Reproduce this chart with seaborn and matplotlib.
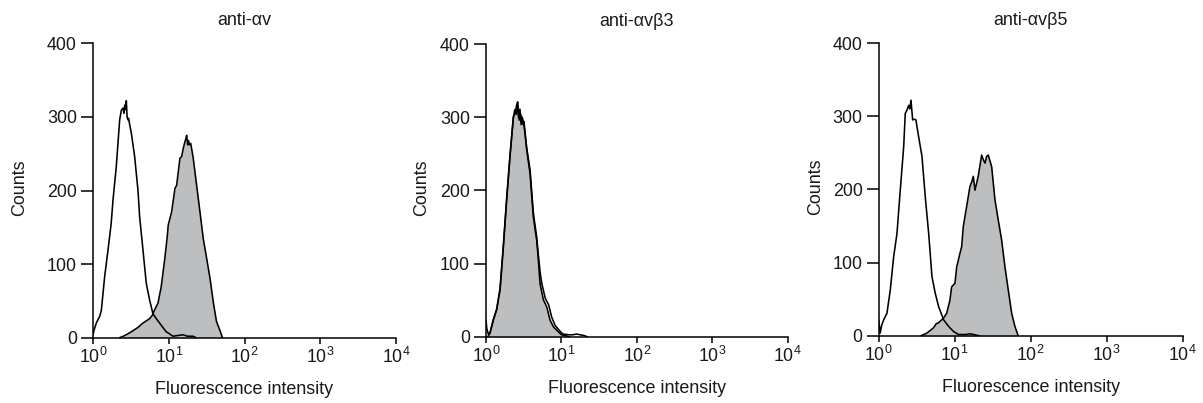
import numpy as np
import pandas as pd
import matplotlib
matplotlib.use("Agg")
import matplotlib.pyplot as plt
import seaborn as sns

# ---------------- data (x in log10 decades, y in counts) ----------------
titles = ["anti-\u03b1v", "anti-\u03b1v\u03b23", "anti-\u03b1v\u03b25"]
xtick_values = [1, 10, 100, 1000, 10000]
xtick_labels = [r"$10^{0}$", r"$10^{1}$", r"$10^{2}$", r"$10^{3}$", r"$10^{4}$"]
ytick_values = [0, 100, 200, 300, 400]
xlabel = "Fluorescence intensity"
ylabel = "Counts"

# Panel 1: anti-αv
p1_ctrl_dec = [0.0, 0.013, 0.044, 0.088, 0.11, 0.154, 0.198, 0.24, 0.264, 0.307, 0.352, 0.374,
               0.396, 0.41, 0.418, 0.43, 0.44, 0.45, 0.462, 0.47, 0.48, 0.506, 0.55, 0.594,
               0.616, 0.66, 0.703, 0.748, 0.79, 0.835, 0.9, 0.967, 1.0, 1.055, 1.12, 1.187,
               1.25, 1.32, 1.36]
p1_ctrl_cnt = [4, 10, 20, 29, 37, 83, 119, 155, 187, 232, 296, 309,
               312, 305, 316, 310, 322, 300, 296, 298, 292, 278, 246, 200,
               164, 119, 74, 51, 33, 26, 17, 8, 6, 2, 3, 4,
               2, 2, 0]
p1_stain_dec = [0.35, 0.374, 0.42, 0.506, 0.594, 0.66, 0.72, 0.748, 0.78, 0.814, 0.858, 0.9,
                0.946, 0.98, 0.993, 1.038, 1.082, 1.104, 1.148, 1.17, 1.191, 1.21, 1.225, 1.236,
                1.25, 1.26, 1.275, 1.29, 1.323, 1.368, 1.412, 1.455, 1.5, 1.544, 1.587, 1.63,
                1.675, 1.71]
p1_stain_cnt = [0, 1, 3, 8, 14, 20, 24, 26, 30, 38, 47, 69,
                106, 137, 153, 171, 203, 207, 244, 246, 257, 265, 270, 275,
                262, 268, 262, 264, 244, 207, 171, 135, 108, 81, 49, 22,
                10, 0]

# Panel 2: anti-αvβ3
p2_ctrl_dec = [0.0, 0.01, 0.03, 0.053, 0.097, 0.141, 0.186, 0.23, 0.274, 0.318, 0.362, 0.38,
               0.4, 0.415, 0.43, 0.45, 0.465, 0.48, 0.5, 0.54, 0.584, 0.627, 0.672, 0.694,
               0.72, 0.74, 0.785, 0.83, 0.871, 0.915, 0.98, 1.02, 1.1, 1.15, 1.2, 1.25,
               1.3, 1.35]
p2_ctrl_cnt = [23, 12, 4, 6, 24, 38, 66, 125, 190, 248, 298, 310,
               304, 318, 300, 311, 290, 300, 292, 258, 228, 170, 136, 112,
               86, 73, 53, 44, 27, 16, 8, 4, 3, 3, 4, 3,
               2, 0]
p2_stain_dec = [0.02, 0.053, 0.097, 0.141, 0.186, 0.23, 0.274, 0.318, 0.362, 0.385, 0.407, 0.42,
                0.44, 0.456, 0.473, 0.49, 0.504, 0.54, 0.584, 0.627, 0.672, 0.694, 0.716, 0.76,
                0.805, 0.849, 0.893, 0.96, 1.0, 1.05, 1.11]
p2_stain_cnt = [0, 5, 23, 37, 64, 123, 187, 246, 301, 305, 317, 321,
                296, 305, 299, 290, 294, 255, 223, 164, 132, 105, 73, 51,
                41, 23, 14, 7, 3, 2, 0]

# Panel 3: anti-αvβ5
p3_ctrl_dec = [0.0, 0.02, 0.04, 0.066, 0.109, 0.153, 0.197, 0.241, 0.284, 0.329, 0.35, 0.372,
               0.395, 0.41, 0.425, 0.447, 0.47, 0.49, 0.526, 0.57, 0.613, 0.658, 0.701, 0.745,
               0.789, 0.855, 0.921, 0.987, 1.05, 1.1, 1.15, 1.2, 1.25, 1.33]
p3_ctrl_cnt = [22, 4, 15, 22, 31, 63, 108, 140, 199, 258, 304, 308,
               315, 310, 322, 295, 296, 295, 272, 245, 190, 140, 81, 58,
               40, 22, 13, 6, 2, 2, 2, 3, 2, 0]
p3_stain_dec = [0.55, 0.635, 0.72, 0.76, 0.79, 0.807, 0.83, 0.85, 0.895, 0.938, 0.96, 1.004,
                1.026, 1.07, 1.092, 1.113, 1.158, 1.201, 1.23, 1.245, 1.267, 1.31, 1.355, 1.38,
                1.4, 1.42, 1.442, 1.487, 1.53, 1.574, 1.618, 1.662, 1.705, 1.75, 1.793, 1.837]
p3_stain_cnt = [0, 4, 11, 17, 18, 20, 22, 24, 31, 49, 67, 72,
                94, 113, 122, 149, 177, 204, 212, 218, 199, 218, 247, 240,
                236, 245, 247, 231, 186, 158, 131, 94, 63, 31, 13, 0]

panels = [
    (p1_ctrl_dec, p1_ctrl_cnt, p1_stain_dec, p1_stain_cnt),
    (p2_ctrl_dec, p2_ctrl_cnt, p2_stain_dec, p2_stain_cnt),
    (p3_ctrl_dec, p3_ctrl_cnt, p3_stain_dec, p3_stain_cnt),
]

# ---------------- style ----------------
sns.set_theme(style="ticks")
plt.rcParams["font.family"] = ["Liberation Sans", "DejaVu Sans"]
plt.rcParams["mathtext.fontset"] = "custom"
plt.rcParams["mathtext.rm"] = "Liberation Sans"
plt.rcParams["mathtext.it"] = "Liberation Sans:italic"
plt.rcParams["mathtext.bf"] = "Liberation Sans:bold"
plt.rcParams["mathtext.default"] = "regular"

text_color = "#1a1a1a"
fill_color = "#bdbec0"
fs = 12.9

fig = plt.figure(figsize=(12.03, 4.03), dpi=100)
positions = [
    [0.0773, 0.162, 0.2519, 0.7305],
    [0.4040, 0.1638, 0.2508, 0.7270],
    [0.7304, 0.1663, 0.2527, 0.7270],
]
ylabel_x = [-0.215, -0.184, -0.181]

for i, (pos, title, (cd, cc, sd, sc)) in enumerate(zip(positions, titles, panels)):
    ax = fig.add_axes(pos)
    ctrl = pd.DataFrame({"x": 10 ** np.asarray(cd, float), "y": cc})
    stain = pd.DataFrame({"x": 10 ** np.asarray(sd, float), "y": sc})

    ax.fill_between(stain["x"], stain["y"], 0, color=fill_color, lw=0, zorder=1)
    sns.lineplot(data=stain, x="x", y="y", ax=ax, color="black", lw=1.15,
                 sort=False, estimator=None, zorder=3)
    sns.lineplot(data=ctrl, x="x", y="y", ax=ax, color="black", lw=1.15,
                 sort=False, estimator=None, zorder=3)

    ax.set_xscale("log")
    ax.set_xlim(1, 10000)
    ax.set_ylim(0, 400)
    ax.set_xticks(xtick_values)
    ax.set_xticklabels(xtick_labels)
    ax.minorticks_off()
    ax.set_yticks(ytick_values)
    ax.set_yticklabels([str(v) for v in ytick_values])

    sns.despine(ax=ax)
    for s in ("left", "bottom"):
        ax.spines[s].set_linewidth(1.1)
        ax.spines[s].set_color("black")

    ax.tick_params(axis="y", direction="out", length=8.6, width=1.1, pad=3,
                   labelsize=fs, colors="black", labelcolor=text_color)
    ax.tick_params(axis="x", direction="out", length=4, width=1.1, pad=2.5,
                   labelsize=fs, colors="black", labelcolor=text_color)

    ax.set_title(title, fontsize=fs, color=text_color, pad=13)
    ax.set_xlabel(xlabel, fontsize=fs, color=text_color, labelpad=10)
    ax.set_ylabel(ylabel, fontsize=fs, color=text_color)
    ax.yaxis.set_label_coords(ylabel_x[i], 0.51)
    ax.set_facecolor("white")

fig.savefig("out.png", dpi=100, facecolor="white")
